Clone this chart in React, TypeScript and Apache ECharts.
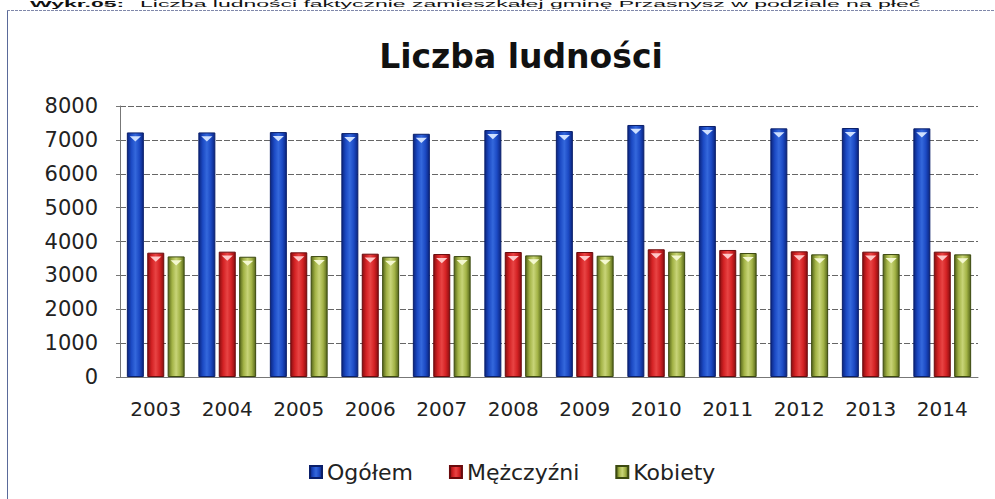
import React, { useEffect, useRef } from "react";
import * as echarts from "echarts";

const years = ["2003", "2004", "2005", "2006", "2007", "2008", "2009", "2010", "2011", "2012", "2013", "2014"];
const ogolem = [7220, 7220, 7230, 7200, 7180, 7290, 7260, 7440, 7410, 7340, 7350, 7340];
const mezczyzni = [3670, 3700, 3680, 3640, 3630, 3690, 3690, 3770, 3750, 3710, 3700, 3700];
const kobiety = [3560, 3550, 3570, 3550, 3570, 3590, 3580, 3700, 3660, 3620, 3630, 3620];
const seriesNames = ["Ogółem", "Mężczyźni", "Kobiety"];
const yTicks = { min: 0, max: 8000, interval: 1000 };

const caption = "Liczba ludności faktycznie zamieszkałej gminę Przasnysz w podziale na płeć";
const captionBold = "Wykr.05:";
const title = "Liczba ludności";

function grad(edge: string, mid: string, light: string) {
  return new echarts.graphic.LinearGradient(0, 0, 1, 0, [
    { offset: 0, color: edge },
    { offset: 0.25, color: mid },
    { offset: 0.5, color: light },
    { offset: 0.75, color: mid },
    { offset: 1, color: edge },
  ]);
}

export default function App() {
  const ref = useRef<HTMLDivElement>(null);
  useEffect(() => {
    if (!ref.current) return;
    const chart = echarts.init(ref.current, null, { renderer: "svg" });
    const palettes = [
      { edge: "#0b2580", mid: "#1c4ac4", light: "#3468dc", border: "#0a1f6a", notch: "#cfe0ff" },
      { edge: "#8a0e10", mid: "#d42224", light: "#e84444", border: "#6a0a0c", notch: "#ffc8c8" },
      { edge: "#56661a", mid: "#a3b346", light: "#c8d478", border: "#3c4a10", notch: "#f4f8d0" },
    ];
    const datas = [ogolem, mezczyzni, kobiety];
    const barSeries: any[] = datas.map((d, i) => ({
      name: seriesNames[i],
      type: "bar",
      data: d,
      barWidth: 17,
      barGap: "20%",
      itemStyle: {
        color: grad(palettes[i].edge, palettes[i].mid, palettes[i].light),
        borderColor: palettes[i].border,
        borderWidth: 1,
      },
    }));
    const notchSeries: any[] = datas.map((d, i) => ({
      name: "_notch" + i,
      type: "pictorialBar",
      data: d,
      barWidth: 17,
      barGap: "20%",
      symbol: "path://M0,0 L10,0 L5,4 Z",
      symbolSize: [11, 5],
      symbolPosition: "end",
      symbolOffset: [0, 4],
      z: 5,
      itemStyle: { color: palettes[i].notch },
      silent: true,
    }));
    chart.setOption({
      animation: false,
      backgroundColor: "#ffffff",
      textStyle: { fontFamily: "DejaVu Sans" },
      title: {
        text: title,
        left: 516,
        top: 35,
        textAlign: "center",
        textStyle: { fontFamily: "DejaVu Sans", fontWeight: "bold", fontSize: 33, color: "#111" },
      },
      legend: {
        data: seriesNames,
        left: 304,
        top: 456,
        icon: "rect",
        itemWidth: 12,
        itemHeight: 12,
        itemGap: 36,
        textStyle: { fontFamily: "DejaVu Sans", fontSize: 22, color: "#222" },
      },
      grid: { left: 120, right: 17, top: 106, bottom: 122 },
      xAxis: {
        type: "category",
        data: years,
        axisLine: { lineStyle: { color: "#777" } },
        axisTick: { show: false },
        axisLabel: { fontSize: 20, color: "#222", margin: 22, fontFamily: "DejaVu Sans" },
      },
      yAxis: {
        type: "value",
        min: yTicks.min,
        max: yTicks.max,
        interval: yTicks.interval,
        axisLine: { show: true, lineStyle: { color: "#777" } },
        axisTick: { show: true, length: 4, lineStyle: { color: "#777" } },
        axisLabel: {
          fontSize: 21,
          color: "#222",
          margin: 22,
          fontFamily: "DejaVu Sans",
          formatter: (v: number) => String(v),
        },
        splitLine: { lineStyle: { color: "#666", type: [6, 2], width: 1 } },
      },
      graphic: [
        {
          type: "line",
          shape: { x1: 7.5, y1: 10, x2: 7.5, y2: 499 },
          style: { stroke: "#5a6a9a", lineWidth: 1 },
        },
        {
          type: "line",
          shape: { x1: 7, y1: 10.5, x2: 995, y2: 10.5 },
          style: { stroke: "#8088aa", lineWidth: 1, lineDash: [3, 1] },
        },
        {
          type: "text",
          x: 30,
          y: 0,
          scaleY: 0.36,
          style: {
            text: captionBold,
            font: "bold 23px 'Liberation Sans', Arial, sans-serif",
            fill: "#111",
            textVerticalAlign: "top",
          },
        },
        {
          type: "text",
          x: 140,
          y: 0,
          scaleY: 0.36,
          style: {
            text: caption,
            font: "23px 'Liberation Sans', Arial, sans-serif",
            fill: "#111",
            textVerticalAlign: "top",
          },
        },
      ],
      series: [...barSeries, ...notchSeries],
    });
    return () => chart.dispose();
  }, []);
  return <div ref={ref} style={{ width: 995, height: 499, position: "absolute", left: 0, top: 0 }} />;
}
